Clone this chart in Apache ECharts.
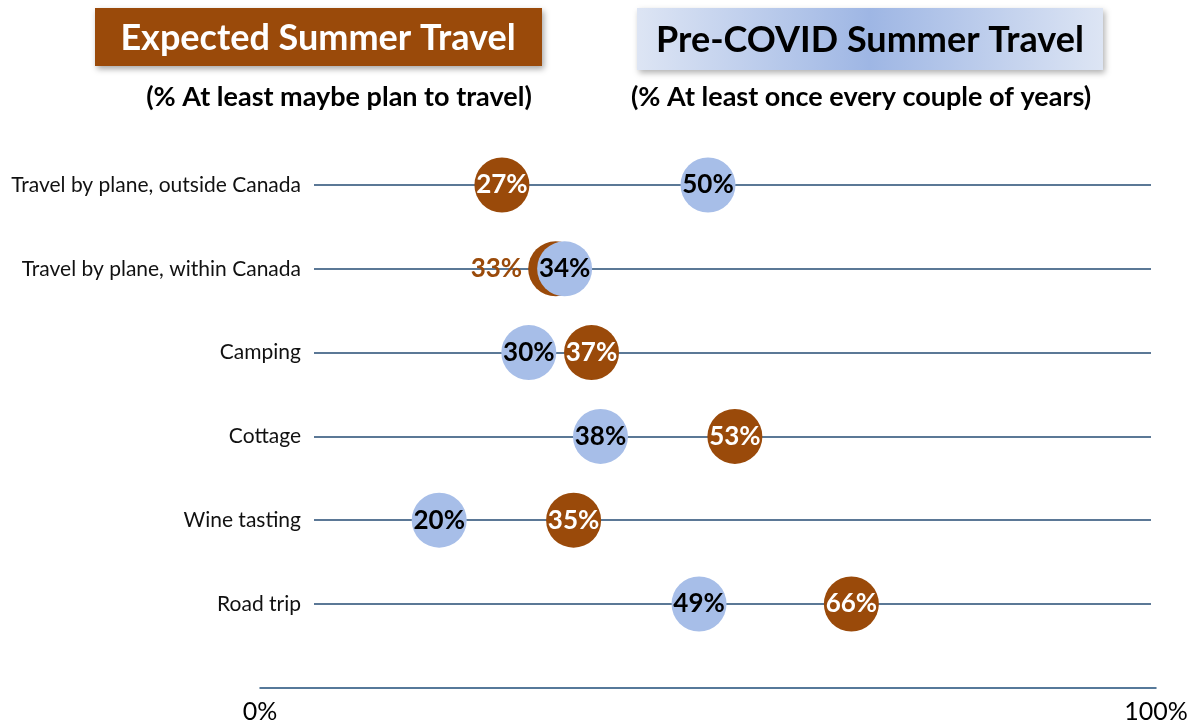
<!DOCTYPE html>
<html>
<head>
<meta charset="utf-8">
<script src="https://cdn.jsdelivr.net/npm/echarts@6/dist/echarts.min.js"></script>
<style>html,body{margin:0;padding:0;background:#fff;}#chart{width:1194px;height:727px;}</style>
</head>
<body>
<div id="chart"></div>
<script>
const categories = ['Travel by plane, outside Canada','Travel by plane, within Canada','Camping','Cottage','Wine tasting','Road trip'];
const expected = [27, 33, 37, 53, 35, 66];
const preCovid = [50, 34, 30, 38, 20, 49];
const xTicks = [0, 100];

const BROWN = '#9A4A0A';
const BLUE = '#A7BEE8';
const LINE = '#244B73';
const FONT = 'Lato, "Open Sans", sans-serif';

const chart = echarts.init(document.getElementById('chart'));
const lineRow = 1; // row whose brown label sits outside (overlap)
chart.setOption({
  animation: false,
  textStyle: { fontFamily: FONT },
  graphic: [
    { type: 'rect', shape: { x: 95, y: 8, width: 447, height: 58 },
      style: { fill: BROWN, shadowBlur: 6, shadowOffsetX: 2, shadowOffsetY: 3, shadowColor: 'rgba(0,0,0,0.35)' } },
    { type: 'text', x: 318, y: 38, style: { text: 'Expected Summer Travel', fill: '#fff', font: 'bold 36px ' + FONT, align: 'center', verticalAlign: 'middle' } },
    { type: 'rect', shape: { x: 637, y: 8, width: 466, height: 62 },
      style: { fill: new echarts.graphic.LinearGradient(0, 0, 1, 0, [
        { offset: 0, color: '#DDE5F4' }, { offset: 0.5, color: '#9EB6E4' }, { offset: 1, color: '#DDE5F4' }]),
        shadowBlur: 6, shadowOffsetX: 2, shadowOffsetY: 3, shadowColor: 'rgba(0,0,0,0.3)' } },
    { type: 'text', x: 870, y: 40, style: { text: 'Pre-COVID Summer Travel', fill: '#000', font: 'bold 36px ' + FONT, align: 'center', verticalAlign: 'middle' } },
    { type: 'text', x: 339, y: 97, style: { text: '(% At least maybe plan to travel)', fill: '#000', font: 'bold 27px ' + FONT, align: 'center', verticalAlign: 'middle' } },
    { type: 'text', x: 861, y: 97, style: { text: '(% At least once every couple of years)', fill: '#000', font: 'bold 27px ' + FONT, align: 'center', verticalAlign: 'middle' } }
  ],
  grid: [
    { left: 314, right: 43, top: 185, bottom: 123 },
    { left: 260, right: 38, top: 185, bottom: 123 }
  ],
  xAxis: [
    { gridIndex: 0, type: 'value', min: 0, max: 100, show: false },
    { gridIndex: 1, type: 'value', min: xTicks[0], max: xTicks[1], interval: 100, position: 'bottom', offset: 84,
      axisLine: { show: true, lineStyle: { color: '#1F4E79', width: 1.5 } },
      axisTick: { show: false }, splitLine: { show: false },
      axisLabel: { formatter: '{value}%', fontSize: 25, color: '#000', margin: 11, fontFamily: FONT } }
  ],
  yAxis: [
    { gridIndex: 0, type: 'category', data: categories, inverse: true, boundaryGap: false,
      axisLine: { show: false }, axisTick: { show: false },
      axisLabel: { fontSize: 21, color: '#111', margin: 13, fontFamily: FONT },
      splitLine: { show: true, lineStyle: { color: LINE, width: 1.5 } } },
    { gridIndex: 1, type: 'category', data: categories, inverse: true, boundaryGap: false, show: false }
  ],
  series: [
    { name: 'Expected Summer Travel', type: 'scatter', xAxisIndex: 1, yAxisIndex: 1, z: 3,
      symbolSize: 55, itemStyle: { color: BROWN, opacity: 1 },
      data: expected.map((v, i) => i === lineRow ? {
        value: [v, categories[i]],
        label: { position: 'left', color: BROWN, distance: 6 } } : [v, categories[i]]),
      label: { show: true, position: 'inside', formatter: p => p.value[0] + '%', color: '#fff', fontSize: 26, fontWeight: 'bold', fontFamily: FONT } },
    { name: 'Pre-COVID Summer Travel', type: 'scatter', xAxisIndex: 1, yAxisIndex: 1, z: 4,
      symbolSize: 55, itemStyle: { color: BLUE, opacity: 1 },
      data: preCovid.map((v, i) => [v, categories[i]]),
      label: { show: true, position: 'inside', formatter: p => p.value[0] + '%', color: '#000', fontSize: 26, fontWeight: 'bold', fontFamily: FONT } }
  ]
});
</script>
</body>
</html>
